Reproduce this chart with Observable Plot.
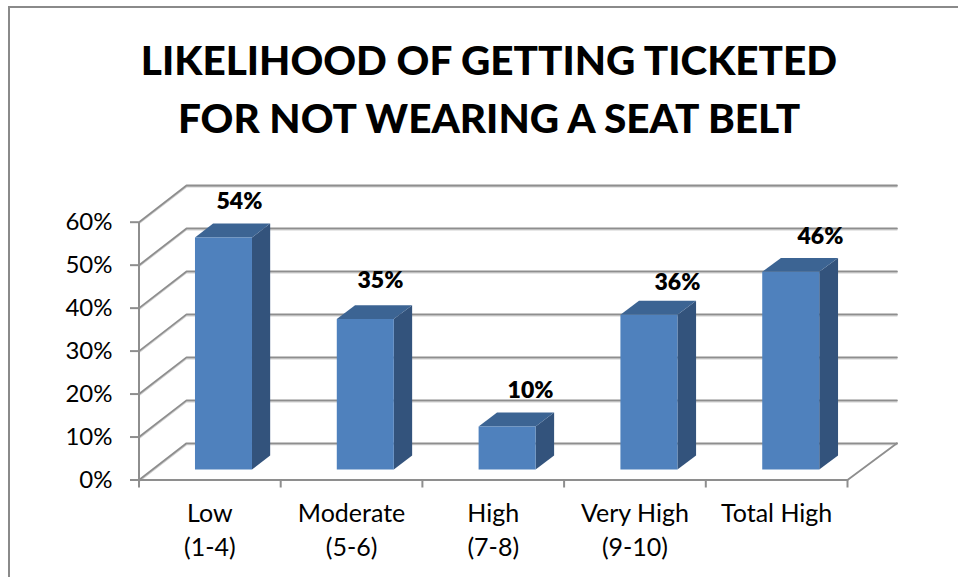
<!DOCTYPE html>
<html>
<head>
<meta charset="utf-8">
<script src="https://cdn.jsdelivr.net/npm/d3@7"></script>
<script src="https://cdn.jsdelivr.net/npm/@observablehq/plot@0.6"></script>
<style>
html,body{margin:0;padding:0;background:#fff;overflow:hidden}
#page{position:relative;width:958px;height:577px;font-family:Lato,sans-serif;color:#000}
#frame{position:absolute;left:8px;top:6px;right:-4px;bottom:-4px;border:2px solid #8a8a8a;pointer-events:none}
#title{position:absolute;left:0;top:30.5px;width:978px;text-align:center;font-weight:900;font-size:40.5px;line-height:58px;margin:0}
#chart{position:absolute;left:0;top:170px}
#chart svg{display:block;overflow:visible}
</style>
</head>
<body>
<div id="page">
  <div id="frame"></div>
  <h1 id="title">LIKELIHOOD OF GETTING TICKETED<br>FOR NOT WEARING A SEAT BELT</h1>
  <div id="chart"></div>
</div>
<script>
const categories = ["Low\n(1-4)", "Moderate\n(5-6)", "High\n(7-8)", "Very High\n(9-10)", "Total High"];
const values = [54, 35, 10, 36, 46];
const valueLabels = ["54%", "35%", "10%", "36%", "46%"];
const yTicks = [0, 10, 20, 30, 40, 50, 60];
const xEdges = [0, 1, 2, 3, 4, 5];

// oblique projection of the 3-D box, in data units of the x and y scales
const project = (x, v, d) => ({x: x + d * (0.335 + 0.0028 * x), y: v + d * 8.54});
const barFrom = 0.299, barWidth = 0.402, depthFront = 0.286, depthBack = 0.667;

const gridPaths = yTicks.flatMap(v => [
  {t: v, ...project(0, v, 0)},
  {t: v, ...project(0, v, 1)},
  {t: v, ...project(5, v, 1)}
]);
const floorEdge = [project(5, 0, 0), project(5, 0, 1)];

const face = (name, pts) => pts.map(p => ({face: name, ...p}));
const faces = values.flatMap((v, i) => {
  const a = i + barFrom, b = a + barWidth;
  return [
    ...face("side" + i, [project(b, 0, depthFront), project(b, 0, depthBack), project(b, v, depthBack), project(b, v, depthFront)]),
    ...face("top" + i, [project(a, v, depthFront), project(a, v, depthBack), project(b, v, depthBack), project(b, v, depthFront)]),
    ...face("front" + i, [project(a, 0, depthFront), project(b, 0, depthFront), project(b, v, depthFront), project(a, v, depthFront)])
  ];
});
const faceColor = n => n.startsWith("front") ? "#4f81bd" : n.startsWith("side") ? "#33537c" : "#3c6493";

// hand-placed data labels of the reference, as shifts in scale units
const labelShiftX = [0.209, 0.204, 0.263, 0.30, 0.309];
const labelShiftY = [10.8, 11.4, 10.8, 9.9, 10.6];

const chart = Plot.plot({
  width: 958,
  height: 407,
  marginLeft: 138.5,
  marginRight: 111,
  marginTop: 51.7,
  marginBottom: 97.5,
  style: {background: "transparent", fontFamily: "Lato, sans-serif", color: "#000", overflow: "visible"},
  x: {type: "linear", domain: [0, 5]},
  y: {type: "linear", domain: [0, 60]},
  marks: [
    Plot.line(gridPaths, {x: "x", y: "y", z: "t", stroke: "#cfcfcf", strokeWidth: 1.5, dy: 1.3}),
    Plot.line(gridPaths, {x: "x", y: "y", z: "t", stroke: "#8e8e8e", strokeWidth: 1.8}),
    Plot.line(floorEdge, {x: "x", y: "y", stroke: "#8e8e8e", strokeWidth: 1.8}),
    Plot.ruleX([0], {y1: 0, y2: 60, stroke: "#8e8e8e", strokeWidth: 2}),
    Plot.ruleY([0], {x1: 0, x2: 5, stroke: "#8e8e8e", strokeWidth: 2}),
    Plot.axisY({ticks: yTicks, tickFormat: d => d + "%", tickSize: 8.5, tickPadding: 18, stroke: "#8e8e8e", strokeWidth: 2, fontSize: 24, label: null, fill: "#000"}),
    Plot.axisX({ticks: xEdges, tickFormat: () => "", tickSize: 8, stroke: "#8e8e8e", strokeWidth: 2, label: null}),
    Plot.axisX({ticks: categories.map((c, i) => i + 0.5), tickFormat: d => categories[d - 0.5], tickSize: 0, tickPadding: 18, fontSize: 25, lineHeight: 1.36, label: null, fill: "#000"}),
    Plot.line(faces, {x: "x", y: "y", z: "face", fill: d => faceColor(d.face), stroke: "none"}),
    Plot.text(values, {
      x: (d, i) => i + 0.5 + labelShiftX[i],
      y: (d, i) => d + labelShiftY[i],
      text: (d, i) => valueLabels[i],
      fontSize: 23, fontWeight: 800, fill: "#000"
    })
  ]
});
document.getElementById("chart").appendChild(chart);
</script>
</body>
</html>
